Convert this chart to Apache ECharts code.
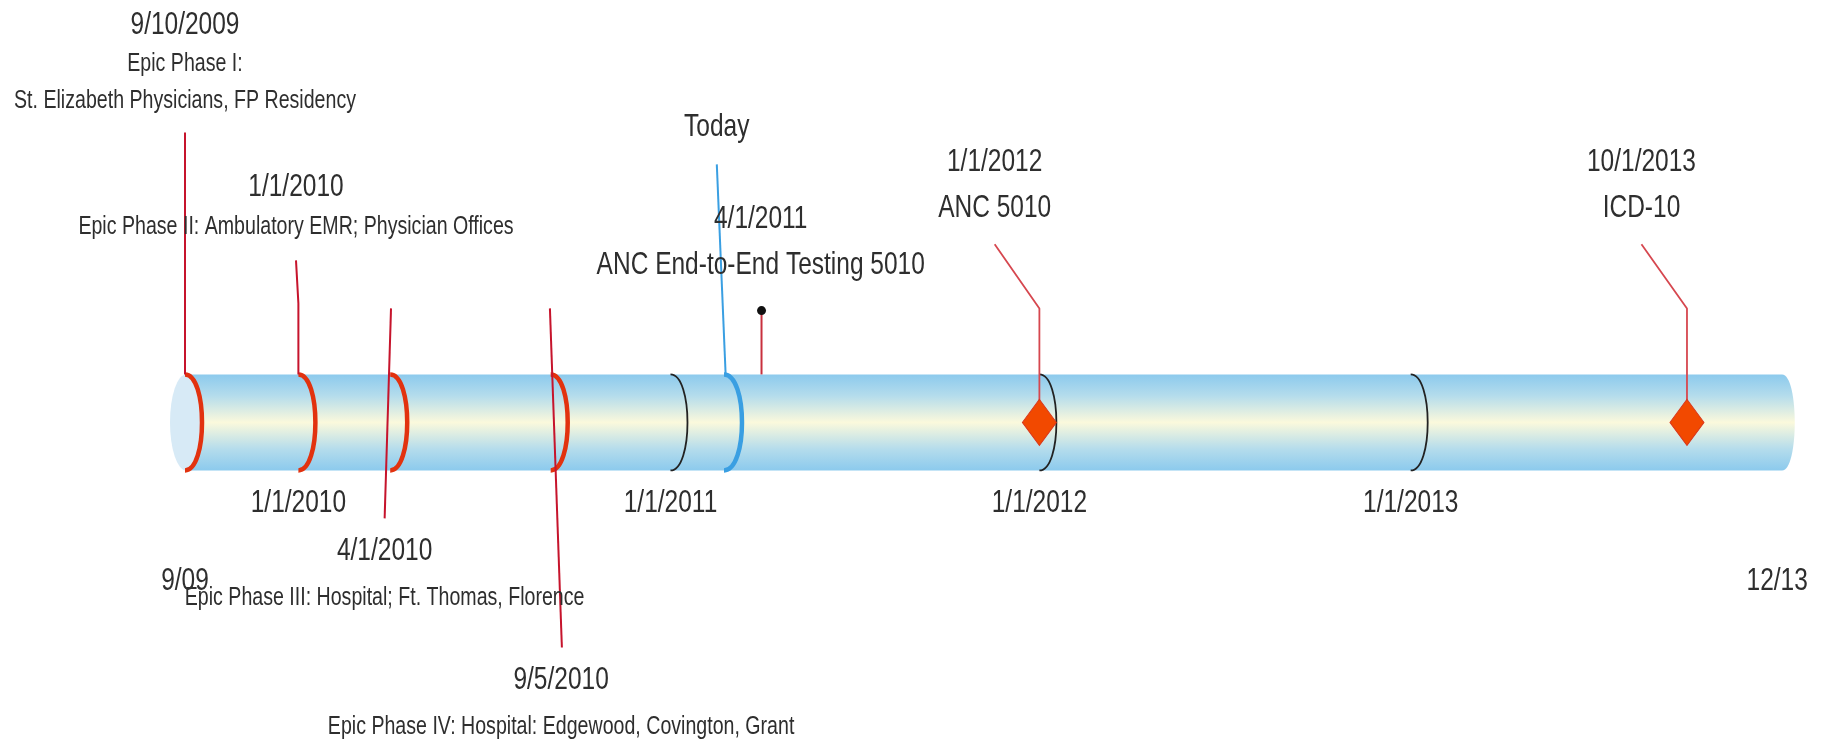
<!DOCTYPE html>
<html>
<head>
<meta charset="utf-8">
<title>Epic / 5010 / ICD-10 timeline</title>
<script src="https://cdn.jsdelivr.net/npm/echarts@6.0.0/dist/echarts.min.js"></script>
<style>
  html, body { margin: 0; padding: 0; background: #fff; }
  #timeline { width: 1830px; height: 744px; }
</style>
</head>
<body>
<div id="timeline"></div>
<script>
// positions along the drawn tube, 0 = left end (9/09), 100 = right end (12/13)
// the drawing is not to scale, so these are read off the picture
const phaseDates = ['9/10/2009', '1/1/2010', '4/1/2010', '9/5/2010']
const phaseNames = [
  'Epic Phase I:\nSt. Elizabeth Physicians, FP Residency',
  'Epic Phase II: Ambulatory EMR; Physician Offices',
  'Epic Phase III: Hospital; Ft. Thomas, Florence',
  'Epic Phase IV: Hospital: Edgewood, Covington, Grant'
]
const phasePos = [0, 7.1, 12.85, 22.9]
const phaseLabelPos = [0, 6.95, 12.5, 23.55]

const yearTicks = ['1/1/2010', '1/1/2011', '1/1/2012', '1/1/2013']
const yearPos = [7.1, 30.4, 53.5, 76.75]

const todayLabel = 'Today'
const todayPos = 33.75
const todayLabelPos = 33.3

const milestoneDates = ['4/1/2011', '1/1/2012', '10/1/2013']
const milestoneNames = ['ANC End-to-End Testing 5010', 'ANC 5010', 'ICD-10']
const milestonePos = [36.1, 53.5, 94.05]
const milestoneLabelPos = [36.05, 50.7, 91.2]
const milestoneMarker = ['dot', 'diamond', 'diamond']

const endLabels = ['9/09', '12/13']
const endPos = [0, 99.7]

// ---- layout (y in tube radii, tube spans -1..1) ----
const phaseLayout = [
  { stem: [[0, 6.04], [0, 1]], date: 8.27, name: 7.09 },
  { stem: [[6.95, 3.375], [7.1, 2.48], [7.1, 1]], date: 4.9, name: 4.06 },
  { stem: [[12.9, 2.375], [12.5, -2.0]], date: -2.69, name: -3.67 },
  { stem: [[22.85, 2.375], [23.6, -4.69]], date: -5.375, name: -6.35 }
]
const milestoneLayout = { bend: 2.375, top: 3.71, dot: 2.33, date4: 4.23, name4: 3.27, date: 5.42, name: 4.46 }
const todayLayout = { top: 5.375, label: 6.15 }
const yearLabelY = -1.69
const endLabelY = -3.31

// the original text is a tall, condensed sans; regular sans stretched upward
const FONT = '"Liberation Sans", Arial, sans-serif'
const BIG = 24.5
const SMALL = 19.6
const STRETCH = 1.28
const TEXT = '#2e2e2e'

const RED_RING = '#e2320f'
const BLUE = '#3a9fe2'
const PHASE_STEM = '#c6142c'
const MILE_STEM = '#d6474f'

// year rings only where no phase ring already sits
const ringData = []
phasePos.forEach(p => ringData.push([p, 0]))
yearPos.forEach(p => { if (!phasePos.some(q => Math.abs(q - p) < 0.5)) ringData.push([p, 1]) })
ringData.push([todayPos, 2])
const ringStyles = [
  { color: RED_RING, width: 4.5, bulge: 17 },
  { color: '#222', width: 1.8, bulge: 17 },
  { color: BLUE, width: 4.5, bulge: 18 }
]

// label points: [x, y, text index, size index]
const labelTexts = []
const labelData = []
function addLabel(x, y, text, big) {
  labelTexts.push(text)
  labelData.push([x, y, labelTexts.length - 1, big ? 1 : 0])
}
phaseDates.forEach((d, i) => {
  addLabel(phaseLabelPos[i], phaseLayout[i].date, d, true)
  addLabel(phaseLabelPos[i], phaseLayout[i].name, phaseNames[i], false)
})
milestoneDates.forEach((d, i) => {
  const dy = i === 0 ? milestoneLayout.date4 : milestoneLayout.date
  const ny = i === 0 ? milestoneLayout.name4 : milestoneLayout.name
  addLabel(milestoneLabelPos[i], dy, d, true)
  addLabel(milestoneLabelPos[i], ny, milestoneNames[i], true)
})
yearTicks.forEach((t, i) => addLabel(yearPos[i], yearLabelY, t, true))
endLabels.forEach((t, i) => addLabel(endPos[i], endLabelY, t, true))
addLabel(todayLabelPos, todayLayout.label, todayLabel, true)

// stems
const stems = []
phaseLayout.forEach(l => stems.push({ pts: l.stem, color: PHASE_STEM, width: 2 }))
milestonePos.forEach((p, i) => {
  if (milestoneMarker[i] === 'dot') {
    stems.push({ pts: [[p, 1], [p, milestoneLayout.dot]], color: '#c8303e', width: 2 })
  } else {
    stems.push({ pts: [[p, 0.4], [p, milestoneLayout.bend], [milestoneLabelPos[i], milestoneLayout.top]], color: MILE_STEM, width: 1.8 })
  }
})
stems.push({ pts: [[todayPos + 0.1, 1.02], [todayLabelPos, todayLayout.top]], color: BLUE, width: 2 })

const tubeGradient = new echarts.graphic.LinearGradient(0, 0, 0, 1, [
  { offset: 0, color: '#8ccaed' },
  { offset: 0.22, color: '#b4dcec' },
  { offset: 0.5, color: '#fbf9dc' },
  { offset: 0.78, color: '#b4dcec' },
  { offset: 1, color: '#8ccaed' }
])

const chart = echarts.init(document.getElementById('timeline'))
chart.setOption({
  animation: false,
  backgroundColor: '#fff',
  grid: { left: 185, right: 48, top: 0, bottom: 0 },
  xAxis: { type: 'value', min: 0, max: 100, show: false },
  yAxis: { type: 'value', min: -6.7, max: 8.8, show: false },
  series: [
    {
      // the tube
      type: 'custom',
      silent: true,
      z: 1,
      data: [[0, 100]],
      renderItem(params, api) {
        const a = api.coord([api.value(0), 1])
        const b = api.coord([api.value(1), -1])
        const x0 = a[0], top = a[1], x1 = b[0], bot = b[1]
        const cy = (top + bot) / 2, ry = (bot - top) / 2
        const endC = 17
        const rx = 16
        return {
          type: 'group',
          children: [
            {
              type: 'path',
              shape: { pathData: `M${x0} ${top} L${x1} ${top} C${x1 + endC} ${top} ${x1 + endC} ${bot} ${x1} ${bot} L${x0} ${bot} Z` },
              style: { fill: tubeGradient }
            },
            {
              type: 'path',
              shape: { pathData: `M${x0 - rx + 1} ${cy} A${rx} ${ry} 0 1 0 ${x0 + rx + 1} ${cy} A${rx} ${ry} 0 1 0 ${x0 - rx + 1} ${cy} Z` },
              style: { fill: '#d7eaf6' }
            }
          ]
        }
      }
    },
    {
      // rings round the tube
      type: 'custom',
      silent: true,
      z: 2,
      data: ringData,
      renderItem(params, api) {
        const s = ringStyles[api.value(1)]
        const p = api.coord([api.value(0), 1])
        const q = api.coord([api.value(0), -1])
        const c = s.bulge * 4 / 3
        return {
          type: 'path',
          shape: { pathData: `M${p[0]} ${p[1]} C${p[0] + c} ${p[1]} ${q[0] + c} ${q[1]} ${q[0]} ${q[1]}` },
          style: { fill: 'none', stroke: s.color, lineWidth: s.width }
        }
      }
    },
    ...stems.map(s => ({
      type: 'line',
      z: 3,
      silent: true,
      symbol: 'none',
      data: s.pts,
      lineStyle: { color: s.color, width: s.width }
    })),
    {
      type: 'scatter',
      z: 4,
      silent: true,
      data: milestonePos.map((p, i) => milestoneMarker[i] === 'diamond' ? [p, 0] : null).filter(Boolean),
      symbol: 'diamond',
      symbolSize: [34, 46],
      itemStyle: { color: '#f24900', borderColor: '#d8361c', borderWidth: 1, opacity: 1 }
    },
    {
      type: 'scatter',
      z: 4,
      silent: true,
      data: milestonePos.map((p, i) => milestoneMarker[i] === 'dot' ? [p, milestoneLayout.dot] : null).filter(Boolean),
      symbol: 'circle',
      symbolSize: 9,
      itemStyle: { color: '#111', opacity: 1 }
    },
    {
      // all the text
      type: 'custom',
      silent: true,
      z: 5,
      data: labelData,
      renderItem(params, api) {
        const pt = api.coord([api.value(0), api.value(1)])
        const size = api.value(3) ? BIG : SMALL
        return {
          type: 'text',
          x: pt[0],
          y: pt[1],
          scaleY: STRETCH,
          style: {
            text: labelTexts[api.value(2)],
            fill: TEXT,
            font: size + 'px ' + FONT,
            align: 'center',
            verticalAlign: 'middle',
            lineHeight: 37 / STRETCH
          }
        }
      }
    }
  ]
})
</script>
</body>
</html>
